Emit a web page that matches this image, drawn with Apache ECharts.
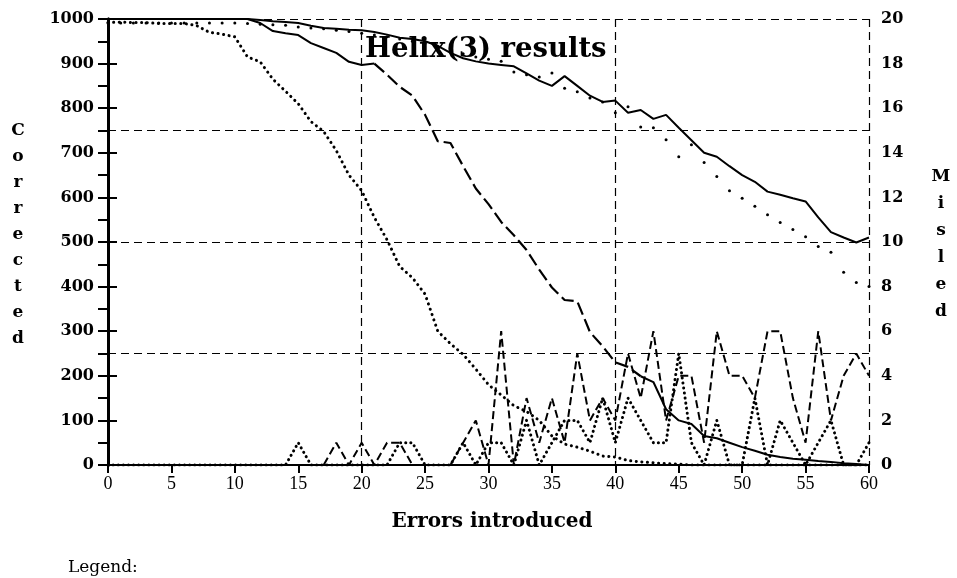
<!DOCTYPE html>
<html><head><meta charset="utf-8">
<script src="https://cdn.jsdelivr.net/npm/echarts@6/dist/echarts.min.js"></script>
<style>html,body{margin:0;padding:0;background:#fff}#c{width:957px;height:578px}</style>
</head><body><div id="c"></div>
<script>
const errors = [0,1,2,3,4,5,6,7,8,9,10,11,12,13,14,15,16,17,18,19,20,21,22,23,24,25,26,27,28,29,30,31,32,33,34,35,36,37,38,39,40,41,42,43,44,45,46,47,48,49,50,51,52,53,54,55,56,57,58,59,60];
// Corrected (left axis)
const corrSolid = [1000,1000,1000,1000,1000,1000,1000,1000,1000,1000,1000,1000,998,995,993,991,985,980,978,976,975,971,965,958,955,950,940,924,912,905,900,897,894,878,862,850,872,850,828,814,817,790,796,776,785,756,728,700,691,670,650,635,613,606,598,591,555,522,510,499,510];
const corrSparseDot = [991,991,991,991,991,991,991,991,991,991,991,990,988,987,986,982,980,978,975,972,968,964,960,955,950,945,938,930,922,915,910,905,881,875,870,879,845,837,823,814,790,803,758,756,729,691,718,678,647,615,598,580,561,544,528,512,490,477,432,409,400];
const corrDot = [992,993,992,992,990,990,990,985,970,966,960,915,904,865,838,810,770,748,705,650,615,555,505,445,420,383,300,272,248,215,180,157,133,120,100,65,47,40,31,20,18,10,7,5,3,2,0,0,0,0,0,0,0,0,0,0,0,0,0,0,0];
const corrDash = [1000,1000,1000,1000,1000,1000,1000,1000,1000,1000,1000,1000,991,973,968,964,946,935,924,904,897,900,875,848,828,785,726,722,670,620,585,545,515,482,438,398,370,367,298,266,230,220,199,186,125,100,92,65,60,50,40,32,23,18,14,12,9,7,4,2,0];
// Misled (right axis)
const misDash = [0,0,0,0,0,0,0,0,0,0,0,0,0,0,0,0,0,0,1,0,1,0,1,1,0,0,0,0,1,2,0,6,0,3,1,3,1,5,2,3,2,5,3,6,2,4,4,1,6,4,4,3,6,6,3,1,6,2,4,5,4];
const misDot = [0,0,0,0,0,0,0,0,0,0,0,0,0,0,0,1,0,0,0,0,0,0,0,1,1,0,0,0,1,0,1,1,0,2,0,1,2,2,1,3,1,3,2,1,1,5,1,0,2,0,0,3,0,2,1,0,1,2,0,0,1];
const misSolid = [0,0,0,0,0,0,0,0,0,0,0,0,0,0,0,0,0,0,0,0,0,0,0,0,0,0,0,0,0,0,0,0,0,0,0,0,0,0,0,0,0,0,0,0,0,0,0,0,0,0,0,0,0,0,0,0,0,0,0,0,0];
// Tick labels
const xTickLabels = ['0','5','10','15','20','25','30','35','40','45','50','55','60'];
const leftTickLabels = ['0','100','200','300','400','500','600','700','800','900','1000'];
const rightTickLabels = ['0','2','4','6','8','10','12','14','16','18','20'];
const titleText = 'Helix(3) results';
const xName = 'Errors introduced';
const leftName = 'Corrected';
const rightName = 'Misled';
const legendText = 'Legend:';

const pair = arr => errors.map((x, i) => [x, arr[i]]);
// same values, split only by drawing style (the original's dash pattern merges on shallow stretches)
const pairIn = (arr, lo, hi) => errors.map((x, i) => [x, (x >= lo && x <= hi) ? arr[i] : null]);
const serif = 'DejaVu Serif';
const chart = echarts.init(document.getElementById('c'), null, {renderer: 'canvas'});
const dash = (d, w) => ({color: '#000', width: w, type: d});
chart.setOption({
  animation: false,
  backgroundColor: '#fff',
  grid: {left: 108, right: 88, top: 19, bottom: 113},
  xAxis: [
    {type: 'value', min: 0, max: 60, interval: 5,
     axisLine: {lineStyle: {color: '#000', width: 2}},
     axisTick: {length: 8, lineStyle: {color: '#000', width: 2}},
     axisLabel: {margin: 10, color: '#000', fontFamily: 'Liberation Serif', fontSize: 18,
       formatter: v => xTickLabels[Math.round(v / 5)]},
     splitLine: {show: false}},
    {type: 'value', min: 0, max: 60, interval: 20, position: 'bottom',
     axisLine: {show: false}, axisTick: {show: false}, axisLabel: {show: false},
     splitLine: {show: true, lineStyle: {color: '#000', width: 1.2, type: [8, 5]}}}
  ],
  yAxis: [
    {type: 'value', position: 'left', min: 0, max: 1000, interval: 100,
     axisLine: {show: true, lineStyle: {color: '#000', width: 3}},
     axisTick: {show: true, length: 10, lineStyle: {color: '#000', width: 2}},
     minorTick: {show: true, splitNumber: 2, length: 10, lineStyle: {color: '#000', width: 2}},
     axisLabel: {margin: 14, color: '#000', fontFamily: serif, fontWeight: 'bold', fontSize: 16,
       formatter: v => leftTickLabels[Math.round(v / 100)]},
     splitLine: {show: false}},
    {type: 'value', position: 'right', min: 0, max: 20, interval: 2,
     axisLine: {show: true, lineStyle: {color: '#000', width: 3}},
     axisTick: {show: true, length: 9, lineStyle: {color: '#000', width: 2}},
     axisLabel: {margin: 12, color: '#000', fontFamily: serif, fontWeight: 'bold', fontSize: 16,
       formatter: v => rightTickLabels[Math.round(v / 2)]},
     splitLine: {show: false}},
    {type: 'value', position: 'left', min: 0, max: 1000, interval: 250,
     axisLine: {show: false}, axisTick: {show: false}, axisLabel: {show: false},
     splitLine: {show: true, lineStyle: {color: '#000', width: 1.2, type: [8, 5]}}}
  ],
  series: [
    {type: 'line', name: 'corrSolid', yAxisIndex: 0, data: pair(corrSolid), showSymbol: false,
     lineStyle: {color: '#000', width: 2}, z: 5},
    {type: 'line', name: 'corrSparseDot', yAxisIndex: 0, data: pair(corrSparseDot), showSymbol: true,
     symbol: 'circle', symbolSize: 3, itemStyle: {color: '#000'}, lineStyle: {opacity: 0}, z: 5},
    {type: 'line', name: 'corrDot', yAxisIndex: 0, data: pair(corrDot), showSymbol: false,
     lineStyle: {color: '#000', width: 3, type: [0.1, 5.5], cap: 'round'}, z: 5},
    {type: 'line', name: 'corrDashA', yAxisIndex: 0, data: pairIn(corrDash, 0, 21), showSymbol: false,
     connectNulls: false, lineStyle: {color: '#000', width: 2}, z: 5},
    {type: 'line', name: 'corrDashB', yAxisIndex: 0, data: pairIn(corrDash, 21, 42), showSymbol: false,
     connectNulls: false, lineStyle: dash([13, 5], 2.2), z: 5},
    {type: 'line', name: 'corrDashC', yAxisIndex: 0, data: pairIn(corrDash, 42, 60), showSymbol: false,
     connectNulls: false, lineStyle: {color: '#000', width: 2}, z: 5},
    {type: 'line', name: 'misDash', yAxisIndex: 1, data: pair(misDash), showSymbol: false,
     lineStyle: dash([8, 4], 2), z: 4},
    {type: 'line', name: 'misDot', yAxisIndex: 1, data: pair(misDot), showSymbol: false,
     lineStyle: {color: '#000', width: 3, type: [0.1, 5], cap: 'round'}, z: 4},
    {type: 'line', name: 'misSolid', yAxisIndex: 1, data: pair(misSolid), showSymbol: false,
     lineStyle: {color: '#000', width: 2}, z: 3}
  ],
  graphic: [
    {type: 'text', x: 365, y: 50, z: 10,
     style: {text: titleText, font: 'bold 27.5px "DejaVu Serif"', fill: '#000', verticalAlign: 'middle'}},
    {type: 'text', x: 492, y: 522,
     style: {text: xName, font: 'bold 20px "DejaVu Serif"', fill: '#000', align: 'center', verticalAlign: 'middle'}},
    {type: 'text', x: 68, y: 568,
     style: {text: legendText, font: '17px "DejaVu Serif"', fill: '#000', verticalAlign: 'middle'}},
    {type: 'text', x: 18, y: 118,
     style: {text: leftName.split('').join('\n'), font: 'bold 17px "DejaVu Serif"', fill: '#000',
       align: 'center', lineHeight: 26}},
    {type: 'text', x: 941, y: 163,
     style: {text: rightName.split('').join('\n'), font: 'bold 17px "DejaVu Serif"', fill: '#000',
       align: 'center', lineHeight: 27}}
  ]
});
</script></body></html>
